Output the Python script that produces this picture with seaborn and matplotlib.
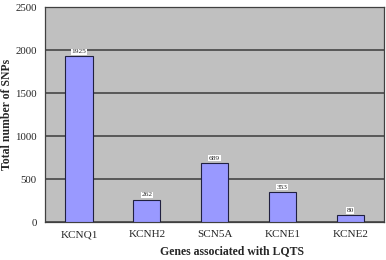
import numpy as np
import pandas as pd
import matplotlib
matplotlib.use('Agg')
import matplotlib.pyplot as plt
import seaborn as sns

genes = ['KCNQ1', 'KCNH2', 'SCN5A', 'KCNE1', 'KCNE2']
snps = [1925, 262, 689, 353, 80]
y_ticks = [0, 500, 1000, 1500, 2000, 2500]

df = pd.DataFrame({'gene': genes, 'snps': snps})

sns.set_style('white')
plt.rcParams['font.family'] = ['Liberation Serif', 'DejaVu Serif']

fig = plt.figure(figsize=(3.86, 2.6), dpi=100)
ax = fig.add_axes([0.117, 0.146, 0.878, 0.827])
ax.set_facecolor('#c0c0c0')

sns.barplot(data=df, x='gene', y='snps', color='#9999ff', width=0.4,
            edgecolor='#202040', linewidth=0.8, saturation=1, ax=ax, zorder=3)

ax.set_ylim(0, 2500)
ax.set_xlim(-0.5, len(genes) - 0.5)
ax.set_yticks(y_ticks)
ax.yaxis.grid(True, color='#505050', linewidth=1.3, zorder=0)
ax.set_axisbelow(True)

# value labels
for i, v in enumerate(snps):
    ax.text(i, v + 25, str(v), ha='center', va='bottom', fontsize=5.3,
            bbox=dict(facecolor='white', edgecolor='none', pad=0.5), zorder=4)

# x ticks at category boundaries
ax.set_xticks(np.arange(len(genes)))
ax.set_xticklabels(genes)
ax.set_xticks(np.arange(-0.5, len(genes)), minor=True)
ax.tick_params(axis='x', which='major', length=0, labelsize=8, pad=6)
ax.tick_params(axis='x', which='minor', length=3, width=0.8, direction='out', color='#404040')
ax.tick_params(axis='y', length=3, width=0.8, direction='out', labelsize=7.8, color='#404040', pad=3)

for s in ax.spines.values():
    s.set_color('#404040')
    s.set_linewidth(0.9)

ax.set_xlabel('Genes associated with LQTS', fontsize=8.5, fontweight='bold', va='center')
ax.set_ylabel('Total number of SNPs', fontsize=8.5, fontweight='bold', va='center')
ax.xaxis.set_label_coords(0.55, -0.135)
ax.yaxis.set_label_coords(-0.113, 0.5)

fig.savefig('out.png', dpi=100)
